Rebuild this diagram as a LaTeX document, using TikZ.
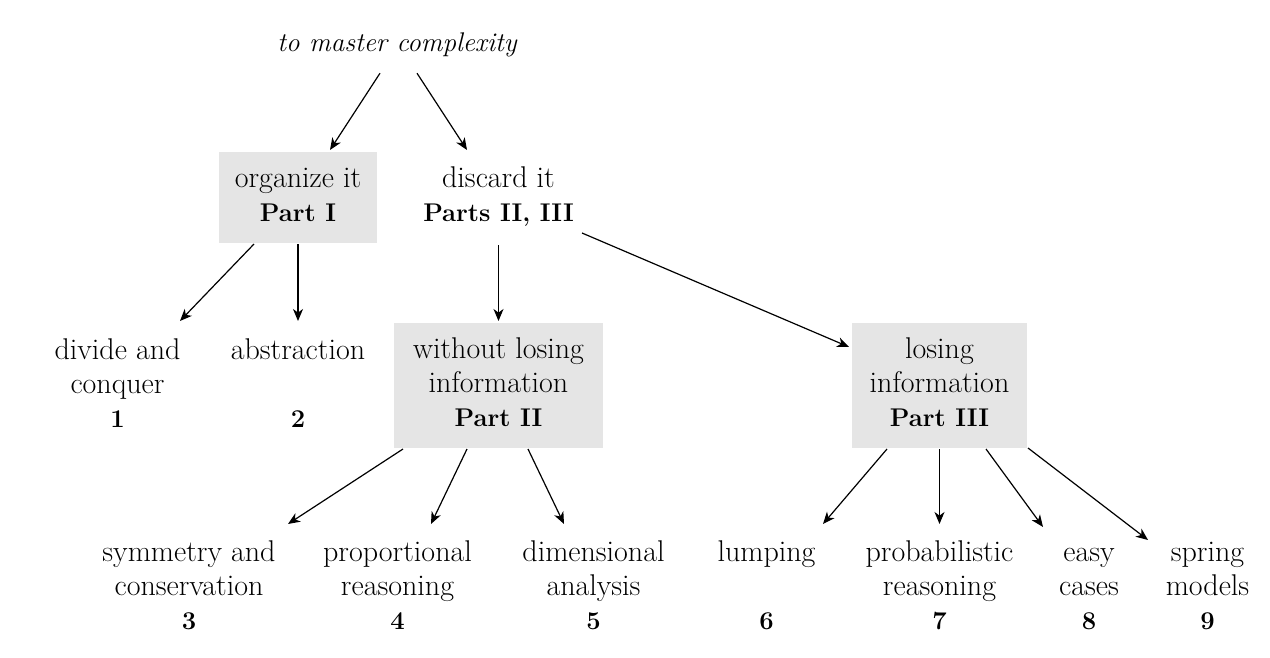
\documentclass[tikz,border=0pt]{standalone}
\usetikzlibrary{arrows.meta}
\definecolor{boxgray}{HTML}{E5E5E5}
\newcommand{\bnum}[1]{{\fontsize{12.8}{17}\selectfont\bfseries #1}}
\begin{document}
\begin{tikzpicture}[x=0.5pt,y=-0.5pt,
  every node/.style={font=\fontsize{15}{17}\selectfont, align=center, inner sep=0pt, outer sep=0pt},
  partbox/.style={fill=boxgray},
  leaf/.style={minimum height=50pt},
  arr/.style={line width=0.6pt, -{Stealth[length=6pt,width=5pt,inset=1.8pt]}}
]
\useasboundingbox (0,0) rectangle (1270,658);
% top
\node[minimum height=28pt, font=\fontsize{13.5}{17}\selectfont] (title) at (397.5,45.2) {\strut\textit{to master complexity}\strut};
% row 1
\node[partbox, minimum width=79pt, minimum height=45.5pt] (org) at (298,197.5) {\strut organize it\\\bnum{Part I}\strut};
\node[minimum width=79pt, minimum height=45.5pt] (discard) at (498.5,197.5) {\strut discard it\\\bnum{Parts II, III}\strut};
% row 2
\node[minimum height=62.5pt] (divide) at (117.5,386.5) {\strut divide and\\conquer\\\bnum{1}\strut};
\node[minimum height=62.5pt] (abstr) at (298,386.5) {\strut abstraction\\\mbox{}\\\bnum{2}\strut};
\node[partbox, minimum width=104.5pt, minimum height=62.5pt] (p2) at (498.5,385.5) {\strut without losing\\information\\\bnum{Part II}\strut};
\node[partbox, minimum width=87.5pt, minimum height=62.5pt] (p3) at (939.5,385.5) {\strut losing\\information\\\bnum{Part III}\strut};
% row 3
\node[leaf] (sym) at (189,589) {\strut symmetry and\\conservation\\\bnum{3}\strut};
\node[leaf] (prop) at (397.5,589) {\strut proportional\\reasoning\\\bnum{4}\strut};
\node[leaf] (dim) at (593.5,589) {\strut dimensional\\analysis\\\bnum{5}\strut};
\node[leaf] (lump) at (766.5,589) {\strut lumping\\\mbox{}\\\bnum{6}\strut};
\node[leaf] (prob) at (939.5,589) {\strut probabilistic\\reasoning\\\bnum{7}\strut};
\node[leaf] (easy) at (1089,589) {\strut easy\\cases\\\bnum{8}\strut};
\node[leaf] (spring) at (1207.5,589) {\strut spring\\models\\\bnum{9}\strut};
% arrows
\draw[arr] ([shift={(-17.5,0)}]title.south) -- ([shift={(32,-2)}]org.north);
\draw[arr] ([shift={(19.5,0)}]title.south) -- ([shift={(-31.5,-2)}]discard.north);
\draw[arr] ([shift={(-44,1)}]org.south) -- ([shift={(62.5,-3)}]divide.north);
\draw[arr] ([shift={(0,1)}]org.south) -- ([shift={(0,-3)}]abstr.north);
\draw[arr] ([shift={(0,2)}]discard.south) -- ([shift={(0,-2)}]p2.north);
\draw[arr] ([shift={(4.5,-10)}]discard.south east) -- ([shift={(-3,24)}]p3.north west);
\draw[arr] ([shift={(-95.5,1)}]p2.south) -- ([shift={(99,-14)}]sym.north);
\draw[arr] ([shift={(-31.5,1)}]p2.south) -- ([shift={(33.5,-14)}]prop.north);
\draw[arr] ([shift={(29.5,1)}]p2.south) -- ([shift={(-29.5,-14)}]dim.north);
\draw[arr] ([shift={(-52.5,1)}]p3.south) -- ([shift={(56.5,-14)}]lump.north);
\draw[arr] ([shift={(0,1)}]p3.south) -- ([shift={(0,-14)}]prob.north);
\draw[arr] ([shift={(46.5,1)}]p3.south) -- ([shift={(-46,-11)}]easy.north);
\draw[arr] ([shift={(88.5,0)}]p3.south) -- ([shift={(-59.5,2)}]spring.north);
\end{tikzpicture}
\end{document}
